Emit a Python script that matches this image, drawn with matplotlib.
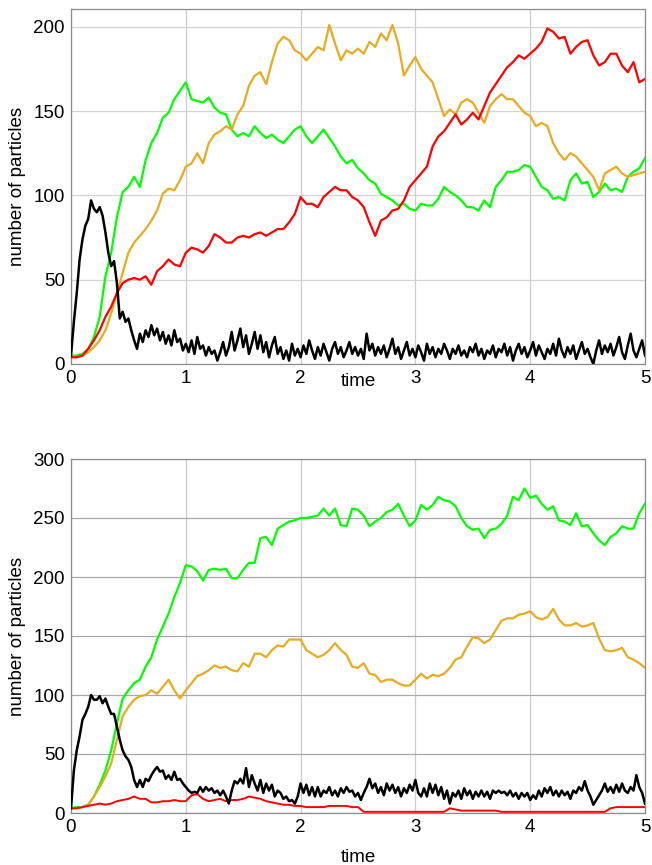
import matplotlib

matplotlib.use("Agg")
import matplotlib.pyplot as plt
import numpy as np

# particle counts per species, sampled every 0.05 time units (0 .. 5)
top_green = [
    5, 5, 6, 9, 16, 28, 52, 66, 87, 102,
    105, 111, 105, 121, 131, 137, 146, 149, 157, 162,
    167, 157, 156, 155, 158, 152, 149, 148, 139, 135,
    137, 135, 141, 137, 134, 136, 133, 131, 135, 139,
    141, 135, 131, 135, 139, 134, 129, 123, 119, 121,
    116, 113, 109, 107, 101, 99, 97, 94, 95, 92,
    91, 95, 94, 94, 98, 105, 102, 100, 97, 93,
    93, 91, 97, 93, 105, 109, 114, 114, 115, 118,
    117, 111, 105, 103, 98, 99, 97, 109, 113, 107,
    108, 99, 102, 107, 103, 104, 102, 111, 114, 116,
    122,
]
top_orange = [
    5, 4, 5, 7, 10, 14, 20, 30, 42, 54,
    66, 72, 76, 80, 85, 91, 101, 104, 103, 109,
    117, 119, 125, 119, 131, 136, 138, 141, 139, 148,
    153, 165, 171, 173, 166, 179, 190, 194, 192, 186,
    184, 180, 184, 188, 186, 201, 190, 180, 186, 184,
    187, 184, 191, 188, 196, 192, 201, 190, 171, 177,
    182, 175, 171, 167, 157, 147, 151, 148, 155, 157,
    155, 149, 143, 153, 157, 160, 157, 157, 153, 149,
    147, 141, 143, 141, 131, 125, 121, 125, 123, 119,
    115, 111, 103, 113, 115, 117, 113, 111, 112, 113,
    114,
]
top_red = [
    4, 4, 5, 9, 14, 20, 28, 34, 42, 48,
    50, 51, 50, 52, 47, 55, 58, 62, 59, 58,
    66, 69, 68, 66, 70, 77, 75, 72, 72, 75,
    76, 75, 77, 78, 76, 78, 80, 80, 84, 89,
    99, 95, 95, 93, 99, 102, 105, 103, 103, 99,
    97, 93, 84, 76, 85, 87, 91, 92, 97, 105,
    109, 113, 117, 129, 135, 138, 143, 148, 142, 145,
    149, 145, 153, 161, 166, 171, 176, 179, 183, 181,
    184, 187, 191, 199, 197, 193, 194, 184, 188, 191,
    192, 183, 177, 179, 184, 184, 177, 173, 179, 167,
    169,
]
# the black species fluctuates fast, so it is sampled every 0.025
top_black = [
    5, 25, 42, 62, 74, 82, 86, 97, 92, 90, 93, 88, 78, 66, 58, 61, 48, 27, 31, 25,
    27, 20, 14, 9, 18, 13, 20, 16, 23, 17, 21, 14, 19, 12, 17, 11, 20, 13, 15, 8,
    12, 7, 14, 6, 16, 9, 11, 5, 10, 6, 8, 2, 7, 13, 5, 10, 19, 8, 14, 21,
    10, 17, 6, 12, 19, 9, 17, 7, 13, 4, 11, 16, 6, 10, 3, 8, 2, 12, 5, 9,
    4, 11, 6, 14, 8, 3, 10, 5, 12, 7, 2, 9, 13, 6, 10, 4, 8, 13, 6, 10,
    5, 9, 3, 18, 8, 12, 5, 10, 6, 11, 4, 9, 15, 6, 10, 3, 8, 13, 5, 9,
    4, 11, 7, 2, 12, 6, 10, 4, 9, 6, 12, 8, 3, 9, 6, 11, 5, 8, 4, 10,
    7, 12, 5, 9, 3, 8, 6, 11, 4, 9, 7, 12, 5, 10, 2, 8, 12, 6, 10, 4,
    8, 13, 5, 11, 7, 3, 9, 6, 12, 5, 15, 8, 4, 10, 6, 11, 3, 8, 13, 6,
    9, 4, 0, 8, 14, 6, 11, 7, 12, 5, 10, 16, 7, 3, 11, 18, 8, 4, 9, 14,
    5,
]

bot_green = [
    4, 5, 5, 7, 14, 24, 36, 53, 76, 97,
    104, 110, 113, 124, 132, 147, 158, 169, 183, 195,
    210, 209, 205, 197, 206, 207, 206, 207, 199, 199,
    206, 212, 212, 233, 234, 227, 241, 244, 247, 248,
    250, 250, 251, 252, 258, 252, 258, 244, 243, 258,
    257, 252, 243, 247, 250, 255, 257, 262, 252, 243,
    248, 261, 257, 261, 268, 265, 264, 260, 250, 243,
    240, 241, 233, 240, 241, 245, 252, 268, 265, 275,
    267, 269, 262, 257, 260, 248, 247, 244, 254, 243,
    244, 237, 231, 227, 234, 237, 243, 241, 241, 254,
    262,
]
bot_orange = [
    4, 4, 5, 7, 14, 22, 31, 42, 62, 82,
    90, 96, 99, 100, 104, 101, 107, 113, 104, 97,
    104, 110, 116, 118, 121, 125, 123, 124, 121, 120,
    127, 124, 135, 135, 132, 138, 142, 141, 147, 147,
    147, 138, 135, 132, 134, 138, 144, 138, 134, 124,
    123, 127, 118, 117, 111, 113, 113, 110, 108, 108,
    113, 118, 114, 117, 116, 118, 123, 130, 132, 141,
    149, 148, 144, 147, 155, 163, 165, 165, 168, 169,
    171, 166, 164, 166, 173, 164, 159, 159, 161, 158,
    159, 161, 148, 138, 137, 138, 140, 132, 130, 127,
    123,
]
bot_red = [
    4, 4, 5, 6, 7, 8, 7, 8, 10, 11,
    12, 14, 12, 12, 9, 9, 10, 10, 11, 10,
    10, 15, 16, 12, 10, 11, 12, 10, 11, 11,
    12, 14, 13, 12, 10, 9, 8, 7, 7, 6,
    6, 5, 5, 5, 5, 6, 6, 6, 6, 5,
    5, 1, 1, 1, 1, 1, 1, 1, 1, 1,
    1, 1, 1, 1, 1, 1, 4, 3, 2, 2,
    2, 2, 2, 2, 2, 1, 1, 1, 1, 1,
    1, 1, 1, 1, 1, 1, 1, 1, 1, 1,
    1, 1, 1, 1, 4, 5, 5, 5, 5, 5,
    5,
]
bot_black = [
    4, 36, 53, 65, 79, 84, 90, 100, 96, 96, 99, 93, 97, 90, 84, 84, 73, 62, 53, 48,
    45, 39, 28, 22, 28, 22, 29, 27, 32, 36, 39, 35, 36, 29, 32, 28, 35, 28, 29, 25,
    22, 19, 17, 18, 17, 22, 18, 22, 19, 21, 17, 19, 15, 19, 14, 8, 19, 27, 25, 29,
    25, 38, 22, 32, 25, 19, 28, 17, 25, 19, 24, 14, 19, 17, 12, 14, 10, 11, 8, 14,
    25, 17, 24, 15, 22, 14, 22, 14, 19, 17, 22, 15, 19, 14, 21, 17, 22, 18, 19, 14,
    17, 11, 17, 22, 29, 21, 25, 17, 22, 15, 25, 19, 24, 17, 22, 14, 21, 17, 24, 19,
    28, 17, 14, 21, 14, 25, 17, 24, 15, 22, 12, 19, 8, 17, 14, 19, 12, 21, 15, 19,
    12, 18, 14, 19, 14, 18, 12, 19, 17, 19, 17, 18, 15, 19, 14, 17, 12, 17, 14, 17,
    11, 15, 12, 19, 14, 21, 17, 22, 15, 19, 14, 19, 15, 18, 12, 19, 17, 22, 19, 27,
    19, 14, 7, 11, 15, 19, 25, 18, 22, 17, 24, 18, 25, 19, 17, 22, 19, 32, 22, 17,
    8,
]

T_END = 5.0
GREEN, ORANGE, RED, BLACK = "#00ff00", "#e6ab22", "#ff0000", "#000000"

plt.rcParams["font.family"] = ["Liberation Sans", "DejaVu Sans"]

W, H = 652, 865
fig = plt.figure(figsize=(W / 100, H / 100), dpi=100)
ax_top = fig.add_axes([71 / W, 1 - 364 / H, 574 / W, 355 / H])
ax_bot = fig.add_axes([71 / W, 1 - 813 / H, 574 / W, 354 / H])


def draw(ax, series, ymax, yticks, label_y, hgrid):
    for vals, color, lw in series:
        t = np.linspace(0, T_END, len(vals))
        ax.plot(t, vals, color=color, lw=lw, zorder=3)
    ax.set_xlim(0, T_END)
    ax.set_ylim(0, ymax)
    ax.set_xticks(range(6))
    ax.set_yticks(yticks)
    ax.tick_params(length=0, labelsize=13.5, pad=4.5)
    ax.xaxis.grid(True, color="#cccccc", lw=0.9)
    ax.yaxis.grid(True, color=hgrid, lw=0.9)
    ax.set_axisbelow(True)
    for sp in ax.spines.values():
        sp.set_color("#8c8c8c")
        sp.set_linewidth(0.9)
    ax.set_xlabel("time", fontsize=13.5)
    ax.set_ylabel("number of particles", fontsize=13.5)
    ax.xaxis.set_label_coords(0.5, label_y)
    ax.xaxis.label.set_va("center")
    ax.yaxis.set_label_coords(-53 / 574, 0.5)
    ax.yaxis.label.set_va("center")


draw(ax_top,
     [(top_green, GREEN, 1.6), (top_orange, ORANGE, 1.6),
      (top_red, RED, 1.6), (top_black, BLACK, 1.8)],
     210.5, [0, 50, 100, 150, 200], -18 / 355, "#d4d4d4")
draw(ax_bot,
     [(bot_green, GREEN, 1.6), (bot_orange, ORANGE, 1.6),
      (bot_red, RED, 1.4), (bot_black, BLACK, 1.8)],
     300, [0, 50, 100, 150, 200, 250, 300], -44 / 354, "#a8a8a8")

fig.savefig("out.png", dpi=100)
